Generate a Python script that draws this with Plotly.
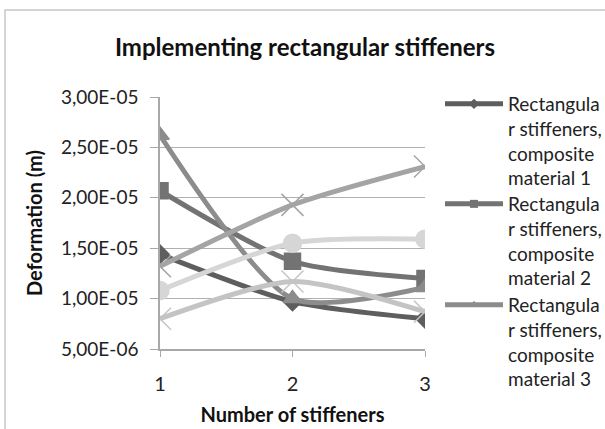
import plotly.graph_objects as go

x_vals = [1, 2, 3]
legend_names = [
    "Rectangula<br>r stiffeners,<br>composite<br>material 1",
    "Rectangula<br>r stiffeners,<br>composite<br>material 2",
    "Rectangula<br>r stiffeners,<br>composite<br>material 3",
]
s1 = [1.44e-5, 0.97e-5, 0.80e-5]
s2 = [2.07e-5, 1.37e-5, 1.20e-5]
s3 = [2.62e-5, 1.00e-5, 1.11e-5]
s4 = [1.32e-5, 1.93e-5, 2.31e-5]
s5 = [1.08e-5, 1.55e-5, 1.59e-5]
s6 = [0.80e-5, 1.17e-5, 0.87e-5]
y_ticks = [5e-6, 1e-5, 1.5e-5, 2e-5, 2.5e-5, 3e-5]
y_ticktext = ["5,00E-06", "1,00E-05", "1,50E-05", "2,00E-05", "2,50E-05", "3,00E-05"]

data = [s1, s2, s3, s4, s5, s6]
colors = ["#5e5e5e", "#737373", "#8c8c8c", "#a4a4a4", "#d6d6d6", "#c4c4c4"]
symbols = ["diamond", "square", "triangle-up", "x-thin", "circle", "x-thin"]
sizes = [14, 16, 16, 22, 18, 22]

FONT = "Lato, Carlito, Calibri, sans-serif"
fig = go.Figure()
for ys, c, sym, sz in zip(data, colors, symbols, sizes):
    fig.add_trace(go.Scatter(
        x=x_vals, y=ys, mode="lines+markers",
        line=dict(color=c, width=5, shape="spline", smoothing=0.7),
        marker=dict(symbol=sym, size=sz, color=c, line=dict(color=c, width=1.5)),
        showlegend=False,
    ))

W, H = 605, 429
L, R, T, B = 160, 425, 97, 349

def px(x):
    return (x - L) / (R - L)

def py(y):
    return (B - y) / (B - T)

# legend-only entries, one legend each (like Excel's clipped legend)
legend_keys = ["legend", "legend2", "legend3"]
legend_tops = [85, 185, 286]
for name, c, sym, key in zip(legend_names, colors[:3], symbols[:3], legend_keys):
    fig.add_trace(go.Scatter(
        x=[None], y=[None], name=name, mode="lines+markers", legend=key,
        line=dict(color=c, width=5),
        marker=dict(symbol=sym, size=8, color=c),
    ))

leg_common = dict(xanchor="left", yanchor="top", valign="top",
                  font=dict(size=19, color="#222"), itemwidth=58,
                  bgcolor="rgba(0,0,0,0)", tracegroupgap=0)
legends = {}
for key, top in zip(legend_keys, legend_tops):
    legends[key] = dict(x=px(440), y=py(top), **leg_common)

fig.add_shape(type="rect", xref="paper", yref="paper",
              x0=px(5), x1=px(640), y0=py(470), y1=py(10),
              line=dict(color="#c8c8c8", width=1.5), layer="below")

fig.update_layout(
    width=W, height=H,
    margin=dict(l=L, r=W - R, t=T, b=H - B, autoexpand=False),
    paper_bgcolor="white", plot_bgcolor="white",
    font=dict(family=FONT, size=20, color="#222"),
    title=dict(text="<b>Implementing rectangular stiffeners</b>", x=305 / W, xanchor="center",
               y=1 - 48 / H, yanchor="middle", font=dict(size=24, color="#111")),
    showlegend=True,
    **legends,
)
fig.update_xaxes(range=[1, 3], tickvals=x_vals, ticktext=[str(v) for v in x_vals],
                 showgrid=False, showline=True, linecolor="#a8a8a8", linewidth=1.5,
                 ticks="outside", ticklen=6, tickcolor="#a8a8a8", zeroline=False,
                 tickfont=dict(size=20), ticklabelstandoff=10,
                 title=dict(text="<b>Number of stiffeners</b>", font=dict(size=20, color="#111"), standoff=14))
fig.update_yaxes(range=[5e-6, 3e-5], tickvals=y_ticks, ticktext=y_ticktext,
                 showgrid=True, gridcolor="#b0b0b0", gridwidth=1.2,
                 showline=True, linecolor="#a8a8a8", linewidth=1.5,
                 ticks="outside", ticklen=8, tickcolor="#a8a8a8", zeroline=False,
                 tickfont=dict(size=19), ticklabelstandoff=8,
                 title=dict(text="<b>Deformation (m)</b>", font=dict(size=20, color="#111"), standoff=13))

fig.write_html("out.html")
